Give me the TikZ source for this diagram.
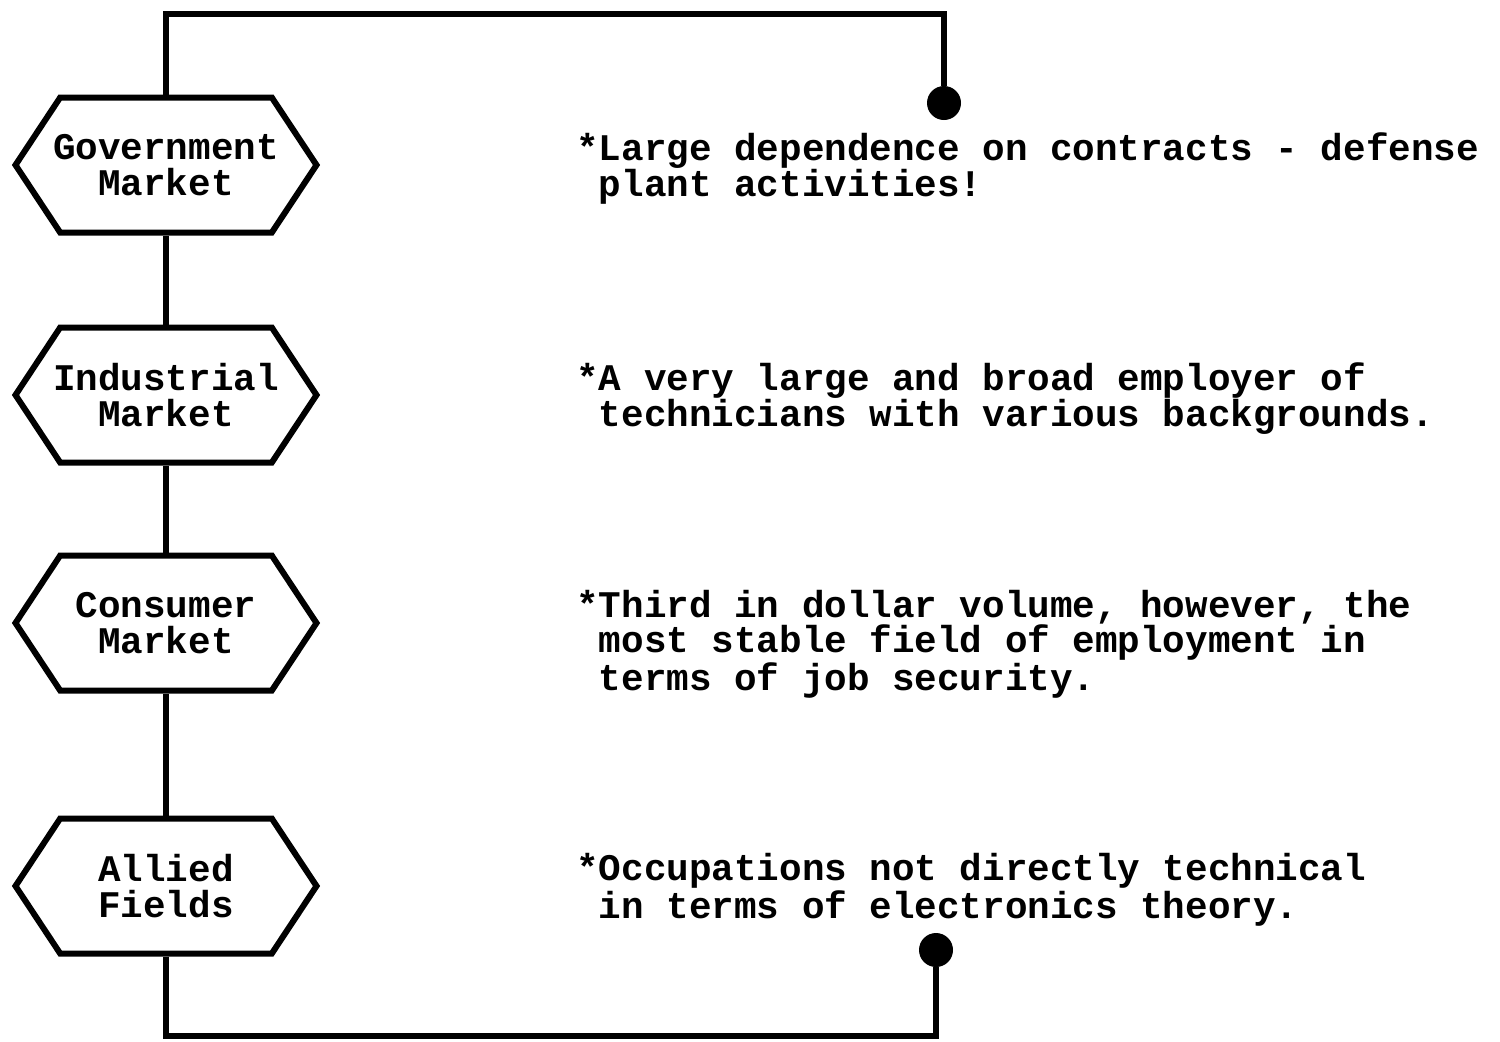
\documentclass[tikz,border=0pt]{standalone}
\usepackage{fontspec}
\setmonofont{Liberation Mono}
\usetikzlibrary{shapes.symbols}
\newcommand\hexlabel[2]{\makebox[0pt]{#1}\\\makebox[0pt]{#2}}
\begin{document}
\begin{tikzpicture}[x=0.5pt,y=-0.5pt,
  every node/.style={font=\ttfamily\bfseries\fontsize{18.8pt}{17.7pt}\selectfont},
  hexbox/.style={draw, line width=3pt, shape=signal, signal to=west and east,
    signal pointer angle=113, minimum width=150.5pt, minimum height=67.5pt,
    text width=60pt, inner sep=0pt, align=center},
  note/.style={anchor=base west, inner sep=0pt, align=left},
  dotn/.style={circle, fill, minimum size=17pt, inner sep=0pt},
  link/.style={line width=3pt}
]
\useasboundingbox (0,0) rectangle (1500,1041);
\node[hexbox] (gov) at (166,165) {\hexlabel{Government}{Market}};
\node[hexbox] (ind) at (166,395) {\hexlabel{Industrial}{Market}};
\node[hexbox] (con) at (166,623) {\hexlabel{Consumer}{Market}};
\node[hexbox] (all) at (166,886) {\hexlabel{Allied}{Fields}};

\node[note] (t1) at (576,196) {*Large dependence on contracts - defense\\\phantom{*}plant activities!};
\node[note] (t2) at (576,426) {*A very large and broad employer of\\\phantom{*}technicians with various backgrounds.};
\node[note] (t3) at (576,690) {*Third in dollar volume, however, the\\\phantom{*}most stable field of employment in\\\phantom{*}terms of job security.};
\node[note] (t4) at (576,918) {*Occupations not directly technical\\\phantom{*}in terms of electronics theory.};

\coordinate (ctop) at (0,14);
\coordinate (cbot) at (0,1036);
\node[dotn] (d1) at (944,103) {};
\node[dotn] (d2) at (936,950) {};

\draw[link] (gov.north) -- (gov.north |- ctop) -| (d1);
\draw[link] (gov.south) -- (ind.north);
\draw[link] (ind.south) -- (con.north);
\draw[link] (con.south) -- (all.north);
\draw[link] (all.south) -- (all.south |- cbot) -| (d2);
\end{tikzpicture}
\end{document}
